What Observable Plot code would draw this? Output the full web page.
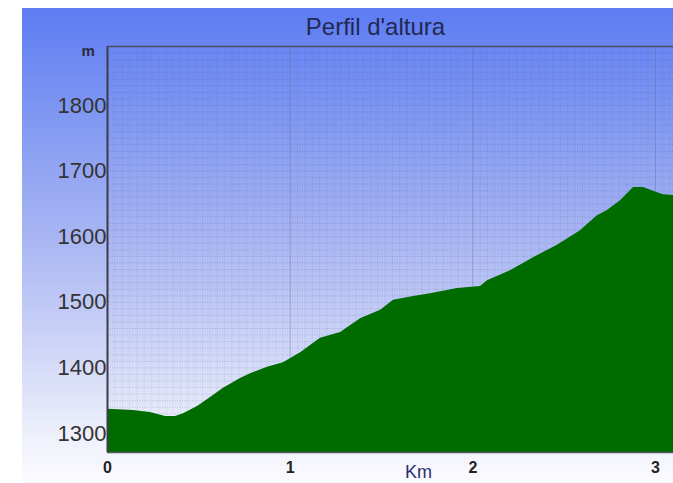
<!DOCTYPE html>
<html>
<head>
<meta charset="utf-8">
<script src="https://cdn.jsdelivr.net/npm/d3@7"></script>
<script src="https://cdn.jsdelivr.net/npm/@observablehq/plot@0.6"></script>
<style>
  html, body { margin: 0; padding: 0; background: #ffffff; }
  #wrap { position: relative; width: 673px; height: 483px; overflow: hidden; }
  #panel { position: absolute; left: 22px; top: 8px; width: 651px; height: 475px;
    background: linear-gradient(to bottom, #5d7cf2 0%, #7f97f2 22%, #a8b5f3 48%, #cfd6f7 72%, #eef0fb 90%, #fbfbff 100%); }
  #chart { position: absolute; left: 0; top: 0; }
  #chart svg { background: transparent; }
</style>
</head>
<body>
<div id="wrap"><div id="panel"></div><div id="chart"></div></div>
<script>
// Distance along the route (km) and elevation (m)
const distanceKm = [0, 0.142, 0.235, 0.318, 0.372, 0.416, 0.493, 0.564, 0.635, 0.728, 0.783, 0.876, 0.963,
  1.057, 1.166, 1.276, 1.385, 1.495, 1.566, 1.675, 1.768, 1.916, 2.042, 2.080, 2.206, 2.332, 2.463,
  2.589, 2.682, 2.737, 2.808, 2.880, 2.934, 3.011, 3.044, 3.099];
const elevationM = [1337, 1335, 1332, 1326, 1326, 1330, 1341, 1355, 1369, 1384, 1391, 1401, 1408,
  1423, 1445, 1454, 1475, 1488, 1503, 1509, 1513, 1521, 1524, 1533, 1548, 1568, 1587,
  1609, 1632, 1640, 1655, 1675, 1675, 1667, 1664, 1663];

const xTicks = [0, 1, 2, 3];
const yTicks = [1300, 1400, 1500, 1600, 1700, 1800];
const titleText = "Perfil d'altura";
const xLabel = "Km";
const yLabel = "m";

const xDomain = [0, 3.0985];
const yDomain = [1271, 1890];

const profile = distanceKm.map((d, i) => ({km: d, elev: elevationM[i]}));
const fineY = d3.range(1280, 1890, 10);
const fineX = d3.range(0.04, 3.1, 0.04);

const chart = Plot.plot({
  width: 673,
  height: 483,
  marginLeft: 107,
  marginRight: 0,
  marginTop: 46,
  marginBottom: 31,
  style: {background: "transparent", fontFamily: "'Liberation Sans', Arial, sans-serif"},
  x: {domain: xDomain, axis: null},
  y: {domain: yDomain, axis: null},
  marks: [
    Plot.ruleY(fineY, {stroke: "#3a4060", strokeOpacity: 0.22, strokeDasharray: "1,1.5"}),
    Plot.ruleX(fineX, {stroke: "#3a4060", strokeOpacity: 0.14, strokeDasharray: "1,1.5"}),
    Plot.ruleX([1, 2, 3], {stroke: "#6a7090", strokeOpacity: 0.35}),
    Plot.areaY(profile, {x: "km", y1: () => yDomain[0], y2: "elev", fill: "#006c00", curve: "linear"}),
    Plot.ruleX([0], {stroke: "#3c3c48", strokeWidth: 2}),
    Plot.ruleY([yDomain[1]], {stroke: "#4a4e66", strokeWidth: 1.5}),
    Plot.ruleY([yDomain[0]], {stroke: "#55585f", strokeWidth: 1.5}),
    Plot.text(xTicks, {x: d => d, text: d => String(d), frameAnchor: "bottom", lineAnchor: "middle", dy: 15.5,
      fontSize: 16, fontWeight: "bold", fill: "#222"}),
    Plot.text(yTicks, {y: d => d, text: d => String(d), frameAnchor: "left", textAnchor: "end", lineAnchor: "middle",
      dx: -1, fontSize: 22, fill: "#333"}),
    Plot.text([titleText], {frameAnchor: "top", lineAnchor: "middle", dx: -15, dy: -19.5, fontSize: 24, fill: "#222852"}),
    Plot.text([xLabel], {frameAnchor: "bottom", lineAnchor: "middle", dx: 28, dy: 20, fontSize: 18, fill: "#283070"}),
    Plot.text([yLabel], {frameAnchor: "top-left", lineAnchor: "middle", dx: -26, dy: 5, fontSize: 15, fontWeight: "bold", fill: "#2a2a3a"})
  ]
});
document.getElementById("chart").appendChild(chart);
</script>
</body>
</html>
